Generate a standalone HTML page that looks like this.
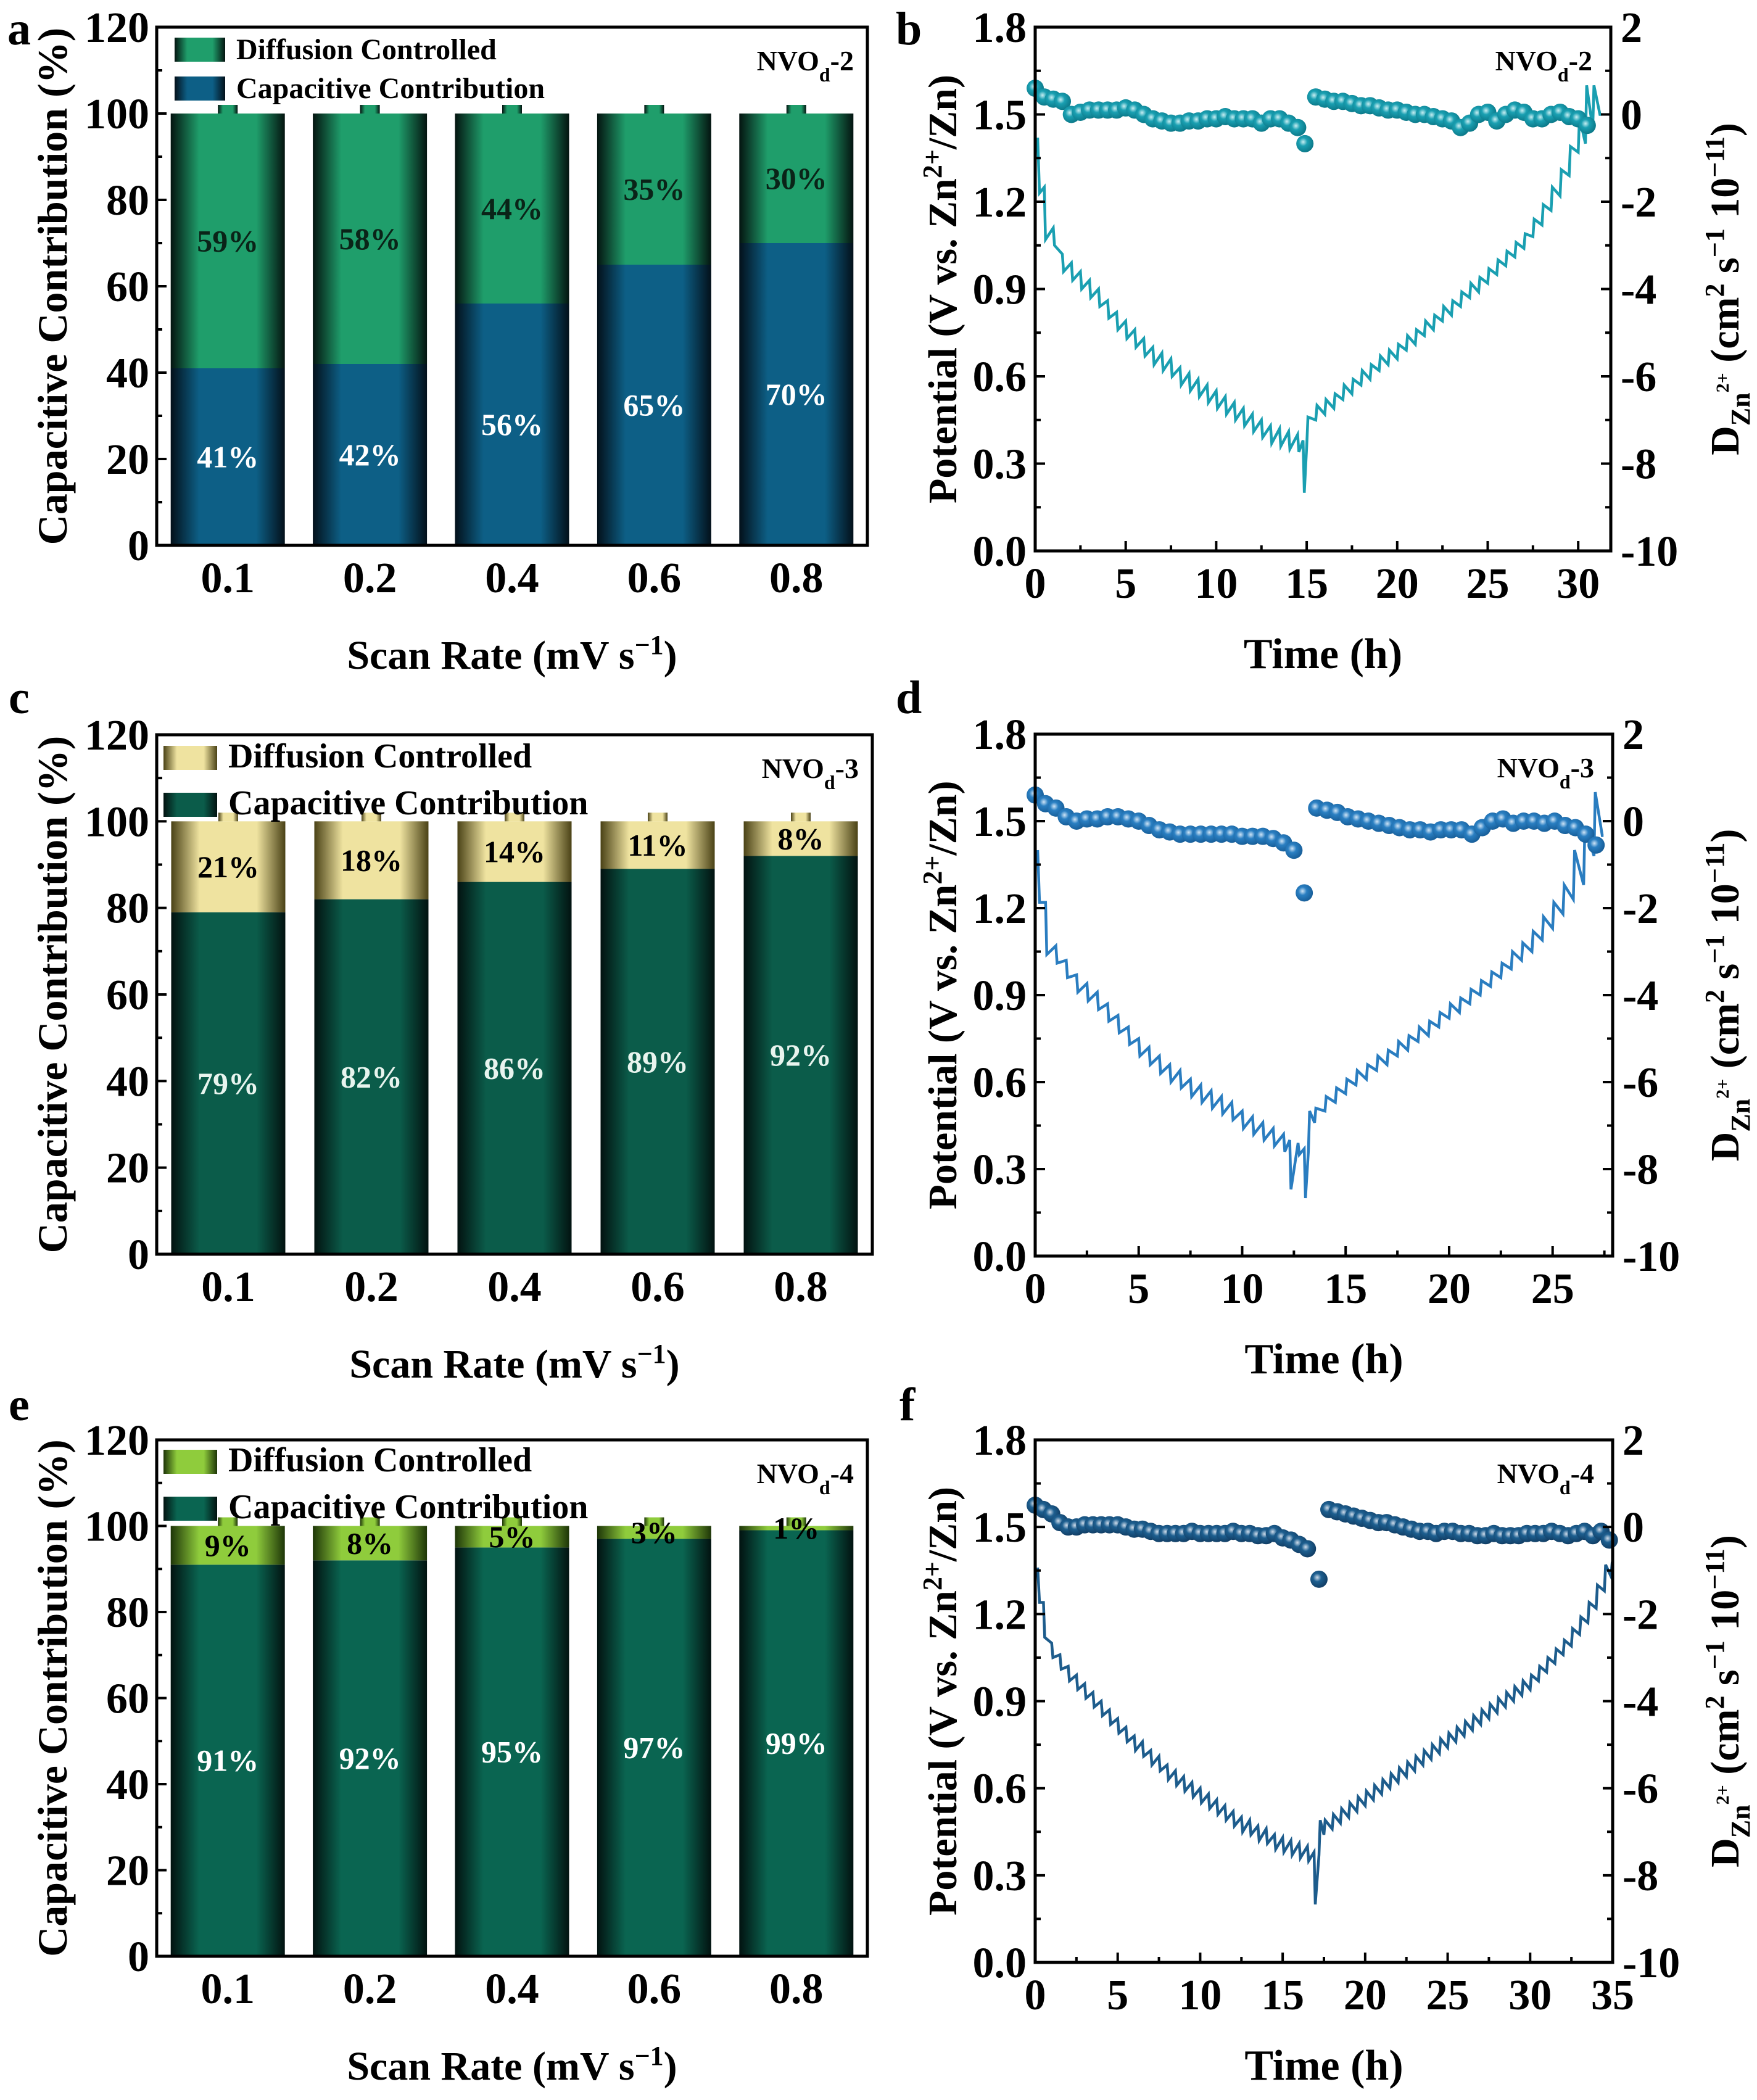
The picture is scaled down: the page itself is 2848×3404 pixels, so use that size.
<!DOCTYPE html>
<html><head><meta charset="utf-8">
<style>
html,body{margin:0;padding:0;background:#fff;}
svg{display:block;font-family:"Liberation Serif",serif;font-weight:bold;}
</style></head>
<body>
<svg id="fig" xmlns="http://www.w3.org/2000/svg" width="2848" height="3404" viewBox="0 0 2848 3404">
<defs>
<linearGradient id="gA1" x1="0" x2="1" y1="0" y2="0"><stop offset="0" stop-color="#041410"/><stop offset="0.25" stop-color="#1f9e6b"/><stop offset="0.75" stop-color="#1f9e6b"/><stop offset="1" stop-color="#041410"/></linearGradient>
<linearGradient id="gA2" x1="0" x2="1" y1="0" y2="0"><stop offset="0" stop-color="#03101a"/><stop offset="0.25" stop-color="#0d5f86"/><stop offset="0.75" stop-color="#0d5f86"/><stop offset="1" stop-color="#03101a"/></linearGradient>
<linearGradient id="gC1" x1="0" x2="1" y1="0" y2="0"><stop offset="0" stop-color="#4a4216"/><stop offset="0.25" stop-color="#efe3a0"/><stop offset="0.75" stop-color="#efe3a0"/><stop offset="1" stop-color="#4a4216"/></linearGradient>
<linearGradient id="gC2" x1="0" x2="1" y1="0" y2="0"><stop offset="0" stop-color="#021210"/><stop offset="0.25" stop-color="#0b5c4a"/><stop offset="0.75" stop-color="#0b5c4a"/><stop offset="1" stop-color="#021210"/></linearGradient>
<linearGradient id="gE1" x1="0" x2="1" y1="0" y2="0"><stop offset="0" stop-color="#1e3608"/><stop offset="0.25" stop-color="#8fcc3c"/><stop offset="0.75" stop-color="#8fcc3c"/><stop offset="1" stop-color="#1e3608"/></linearGradient>
<linearGradient id="gE2" x1="0" x2="1" y1="0" y2="0"><stop offset="0" stop-color="#021210"/><stop offset="0.25" stop-color="#0a6551"/><stop offset="0.75" stop-color="#0a6551"/><stop offset="1" stop-color="#021210"/></linearGradient>
<radialGradient id="pB" cx="0.4" cy="0.4" r="0.6"><stop offset="0" stop-color="#c8eef2"/><stop offset="0.4" stop-color="#1aa0b2"/><stop offset="1" stop-color="#0c7a8a"/></radialGradient>
<radialGradient id="pD" cx="0.4" cy="0.4" r="0.6"><stop offset="0" stop-color="#cfe4f6"/><stop offset="0.4" stop-color="#2a7fc2"/><stop offset="1" stop-color="#185f9a"/></radialGradient>
<radialGradient id="pF" cx="0.4" cy="0.4" r="0.6"><stop offset="0" stop-color="#cfdcea"/><stop offset="0.4" stop-color="#1d5f90"/><stop offset="1" stop-color="#123f66"/></radialGradient>
</defs>
</svg>
<script>
// ---------- bar chart data ----------
const scanRates = ['0.1','0.2','0.4','0.6','0.8'];
const capA = [41,42,56,65,70];
const difA = [59,58,44,35,30];
const capC = [79,82,86,89,92];
const difC = [21,18,14,11,8];
const capE = [91,92,95,97,99];
const difE = [9,8,5,3,1];
const barTicks = [0,20,40,60,80,100,120];

// ---------- GITT data: panel b (NVOd-2) ----------
const lineTB = [0,0.5,1,1.5,2,2.5,3,3.5,4,4.5,5,5.5,6,6.5,7,7.5,8,8.5,9,9.5,10,10.5,11,11.5,12,12.5,13,13.5,14,14.5,14.8,15.0,15.5,16,16.5,17,17.5,18,18.5,19,19.5,20,20.5,21,21.5,22,22.5,23,23.5,24,24.5,25,25.5,26,26.5,27,27.5,28,28.5,29,29.5,30,30.4,30.8,31.2];
const lineVB = [1.42,1.25,1.11,1.02,0.99,0.96,0.93,0.90,0.86,0.82,0.79,0.76,0.73,0.70,0.68,0.66,0.63,0.61,0.59,0.57,0.55,0.53,0.51,0.49,0.47,0.45,0.43,0.42,0.41,0.40,0.38,0.36,0.45,0.47,0.49,0.52,0.54,0.57,0.59,0.62,0.64,0.66,0.69,0.71,0.74,0.76,0.79,0.81,0.84,0.87,0.89,0.92,0.95,0.98,1.01,1.04,1.08,1.12,1.17,1.22,1.29,1.37,1.40,1.45,1.50];
const pulseB = [-0.19,-0.18,-0.06,-0.06,-0.06,-0.06,-0.06,-0.06,-0.06,-0.06,-0.06,-0.06,-0.06,-0.06,-0.06,-0.06,-0.06,-0.06,-0.06,-0.06,-0.06,-0.06,-0.06,-0.06,-0.06,-0.06,-0.06,-0.06,-0.06,-0.06,-0.18,0.10,0.05,0.05,0.05,0.05,0.05,0.05,0.05,0.05,0.05,0.05,0.05,0.05,0.05,0.05,0.05,0.05,0.05,0.05,0.05,0.05,0.05,0.05,0.05,0.05,0.06,0.07,0.08,0.09,0.10,0.12,0.20,0.15,0];
const diffTB = [0,0.5,1,1.5,2,2.5,3,3.5,4,4.5,5,5.5,6,6.5,7,7.5,8,8.5,9,9.5,10,10.5,11,11.5,12,12.5,13,13.5,14,14.5,14.9,15.5,16,16.5,17,17.5,18,18.5,19,19.5,20,20.5,21,21.5,22,22.5,23,23.5,24,24.5,25,25.5,26,26.5,27,27.5,28,28.5,29,29.5,30,30.5];
const diffB = [0.6,0.4,0.35,0.3,0,0.05,0.1,0.1,0.1,0.1,0.15,0.1,0,-0.1,-0.15,-0.2,-0.2,-0.15,-0.15,-0.1,-0.1,-0.05,-0.1,-0.1,-0.1,-0.2,-0.1,-0.1,-0.2,-0.3,-0.67,0.4,0.35,0.3,0.3,0.25,0.2,0.2,0.15,0.1,0.1,0.05,0,0,-0.05,-0.1,-0.15,-0.3,-0.2,0,0.05,-0.15,0,0.1,0.05,-0.1,-0.1,0,0.05,-0.05,-0.1,-0.25];

// ---------- panel d (NVOd-3) ----------
const lineTD = [0,0.5,1,1.5,2,2.5,3,3.5,4,4.5,5,5.5,6,6.5,7,7.5,8,8.5,9,9.5,10,10.5,11,11.5,12,12.3,12.7,13.0,13.2,13.5,14,14.5,15,15.5,16,16.5,17,17.5,18,18.5,19,19.5,20,20.5,21,21.5,22,22.5,23,23.5,24,24.5,25,25.5,26,26.5,27,27.4];
const lineVD = [1.40,1.22,1.07,1.02,0.97,0.94,0.91,0.87,0.83,0.79,0.75,0.72,0.69,0.66,0.64,0.61,0.59,0.57,0.55,0.53,0.50,0.48,0.46,0.44,0.42,0.40,0.39,0.37,0.36,0.46,0.50,0.53,0.56,0.59,0.61,0.64,0.66,0.69,0.71,0.74,0.76,0.79,0.82,0.84,0.87,0.90,0.93,0.96,0.99,1.02,1.05,1.09,1.13,1.18,1.23,1.28,1.38,1.45];
const pulseD = [-0.18,-0.18,-0.06,-0.06,-0.06,-0.06,-0.06,-0.06,-0.06,-0.06,-0.06,-0.06,-0.06,-0.06,-0.06,-0.06,-0.06,-0.06,-0.06,-0.06,-0.06,-0.06,-0.06,-0.06,-0.06,-0.17,-0.04,-0.17,0.14,0.05,0.05,0.05,0.05,0.05,0.05,0.05,0.05,0.05,0.05,0.05,0.05,0.05,0.05,0.05,0.05,0.05,0.05,0.05,0.06,0.06,0.07,0.08,0.09,0.10,0.17,0.20,0.22,0];
const diffTD = [0,0.5,1,1.5,2,2.5,3,3.5,4,4.5,5,5.5,6,6.5,7,7.5,8,8.5,9,9.5,10,10.5,11,11.5,12,12.5,13.0,13.6,14.1,14.6,15.1,15.6,16.1,16.6,17.1,17.6,18.1,18.6,19.1,19.6,20.1,20.6,21.1,21.6,22.1,22.6,23.1,23.6,24.1,24.6,25.1,25.6,26.1,26.6,27.1];
const diffD = [0.6,0.4,0.3,0.1,0,0.05,0.05,0.1,0.1,0.05,0,-0.1,-0.2,-0.25,-0.3,-0.3,-0.3,-0.3,-0.3,-0.3,-0.35,-0.35,-0.35,-0.4,-0.5,-0.67,-1.65,0.3,0.25,0.2,0.1,0.05,0,-0.05,-0.1,-0.15,-0.2,-0.2,-0.25,-0.2,-0.2,-0.2,-0.3,-0.15,0,0.05,-0.05,0,0,-0.05,0,-0.1,-0.15,-0.3,-0.55];

// ---------- panel f (NVOd-4) ----------
const lineTF = [0,0.5,1,1.5,2,2.5,3,3.5,4,4.5,5,5.5,6,6.5,7,7.5,8,8.5,9,9.5,10,10.5,11,11.5,12,12.5,13,13.5,14,14.5,15,15.5,16,16.5,16.9,17.2,17.5,18,18.5,19,19.5,20,20.5,21,21.5,22,22.5,23,23.5,24,24.5,25,25.5,26,26.5,27,27.5,28,28.5,29,29.5,30,30.5,31,31.5,32,32.5,33,33.5,34,34.5,34.9];
const lineVF = [1.36,1.24,1.10,1.06,1.02,0.99,0.96,0.93,0.90,0.87,0.84,0.81,0.78,0.76,0.73,0.71,0.68,0.66,0.64,0.62,0.60,0.58,0.56,0.54,0.52,0.50,0.49,0.47,0.46,0.44,0.43,0.42,0.41,0.40,0.38,0.37,0.44,0.46,0.48,0.50,0.52,0.54,0.56,0.58,0.60,0.62,0.64,0.66,0.68,0.70,0.72,0.74,0.76,0.78,0.80,0.82,0.84,0.86,0.88,0.90,0.92,0.94,0.97,1.00,1.03,1.06,1.09,1.13,1.17,1.22,1.28,1.33];
const pulseF = [-0.12,-0.12,-0.05,-0.05,-0.05,-0.05,-0.05,-0.05,-0.05,-0.05,-0.05,-0.05,-0.05,-0.05,-0.05,-0.05,-0.05,-0.05,-0.05,-0.05,-0.05,-0.05,-0.05,-0.05,-0.05,-0.05,-0.05,-0.05,-0.05,-0.05,-0.05,-0.05,-0.05,-0.05,-0.18,0.12,0.05,0.05,0.05,0.05,0.05,0.05,0.05,0.05,0.05,0.05,0.05,0.05,0.05,0.05,0.05,0.05,0.05,0.05,0.05,0.05,0.05,0.05,0.05,0.05,0.05,0.05,0.05,0.05,0.05,0.05,0.06,0.06,0.07,0.08,0.09,0.05];
const diffTF = [0,0.5,1,1.5,2,2.5,3,3.5,4,4.5,5,5.5,6,6.5,7,7.5,8,8.5,9,9.5,10,10.5,11,11.5,12,12.5,13,13.5,14,14.5,15,15.5,16,16.5,17.2,17.8,18.3,18.8,19.3,19.8,20.3,20.8,21.3,21.8,22.3,22.8,23.3,23.8,24.3,24.8,25.3,25.8,26.3,26.8,27.3,27.8,28.3,28.8,29.3,29.8,30.3,30.8,31.3,31.8,32.3,32.8,33.3,33.8,34.3,34.8];
const diffF = [0.5,0.4,0.3,0.1,0,0,0.05,0.05,0.05,0.05,0.05,0,-0.05,-0.05,-0.1,-0.15,-0.15,-0.15,-0.15,-0.1,-0.15,-0.15,-0.15,-0.15,-0.1,-0.15,-0.15,-0.2,-0.2,-0.15,-0.25,-0.3,-0.4,-0.5,-1.2,0.4,0.35,0.3,0.25,0.2,0.15,0.1,0.1,0.05,0,-0.05,-0.1,-0.1,-0.15,-0.1,-0.1,-0.15,-0.15,-0.2,-0.2,-0.15,-0.2,-0.2,-0.2,-0.15,-0.15,-0.15,-0.1,-0.15,-0.2,-0.15,-0.1,-0.2,-0.1,-0.3];

const potTicks = [0,0.3,0.6,0.9,1.2,1.5,1.8];
const dTicks = [2,0,-2,-4,-6,-8,-10];
const timeTicks = [0,5,10,15,20,25,30,35];

const NS='http://www.w3.org/2000/svg';
const svg=document.getElementById('fig');
function mk(tag,attrs,parent){const e=document.createElementNS(NS,tag);for(const k in attrs)e.setAttribute(k,attrs[k]);(parent||svg).appendChild(e);return e;}
function txt(parent,x,y,s,size,anchor,fill){const t=mk('text',{x:x,y:y,'font-size':size,'text-anchor':anchor||'middle',fill:fill||'#000'},parent);t.textContent=s;return t;}
function sup(t,s,sh,sz){const p=mk('tspan',{'baseline-shift':sh,'font-size':sz},t);p.textContent=s;return p;}
function plain(t,s){const p=mk('tspan',{},t);p.textContent=s;return p;}

function barPanel(id,box,cap,dif,g1,g2,difLabelColor,capLabelColor,legend,sample,letter){
  const g=mk('g',{});
  
  
  const L=box.L,R=box.R,T=box.T,B=box.B;
  const y=v=>B-v/120*(B-T);
  const step=(R-L)/5, bw=185;
  const xc=i=>L+step*(i+0.5);
  for(let i=0;i<scanRates.length;i++){
    const bg=mk('g',{},g);
    
    
    const x0=xc(i)-bw/2;
    const capRect=mk('rect',{x:x0,y:y(cap[i]),width:bw,height:y(0)-y(cap[i]),fill:'url(#'+g2+')'},bg);
    
    
    const difRect=mk('rect',{x:x0,y:y(cap[i]+dif[i]),width:bw,height:y(cap[i])-y(cap[i]+dif[i]),fill:'url(#'+g1+')'},bg);
    
    
    const err=mk('rect',{x:xc(i)-16,y:y(102),width:32,height:y(100)-y(102),fill:'url(#'+g1+')'},bg);
    
    
    const l1=txt(bg,xc(i),y(cap[i]/2)+17,cap[i]+'%',50,'middle',capLabelColor);
    
    
    const l2=txt(bg,xc(i),y(cap[i]+dif[i]/2)+17,dif[i]+'%',50,'middle',difLabelColor);
    
    
    const tl=txt(g,xc(i),B+76,scanRates[i],70);
    
    
  }
  const fr=mk('rect',{x:L,y:T,width:R-L,height:B-T,fill:'none',stroke:'#000','stroke-width':5},g);
  
  
  for(let v=0;v<=120;v+=10){
    const maj=v%20===0;
    mk('line',{x1:L,x2:L+(maj?16:9),y1:y(v),y2:y(v),stroke:'#000','stroke-width':4},g);
  }
  barTicks.forEach(v=>{const t=txt(g,L-12,y(v)+24,String(v),70,'end');
    
    });
  const yt=txt(g,0,0,'Capacitive Contribution (%)',68);
  yt.setAttribute('transform','translate(108,'+((T+B)/2)+') rotate(-90)');
  
  
  const xt=txt(g,(L+R)/2,B+200,'Scan Rate (mV s',66);
  sup(xt,'\u22121','super',44);
  plain(xt,')');
  
  
  const lg=mk('g',{},g);
  
  
  const items=[['Diffusion Controlled',g1],['Capacitive Contribution',g2]];
  items.forEach((it,k)=>{
    const e=mk('g',{},lg);
    
    
    mk('rect',{x:legend.x,y:legend.y+k*legend.dy,width:legend.w,height:legend.h,fill:'url(#'+it[1]+')'},e);
    txt(e,legend.x+legend.w+18,legend.y+k*legend.dy+legend.h-4,it[0],legend.fs,'start');
  });
  const sm=txt(g,R-22,T+70,'NVO',46,'end');
  sup(sm,'d','sub',32);
  plain(sm,sample);
  
  
  const pl=txt(g,box.lx,box.ly,letter,76,'start');
  
  
}

function linePanel(id,box,xmax,lt,lv,pa,dt,dv,color,grad,sample,letter){
  const g=mk('g',{});
  
  
  const L=box.L,R=box.R,T=box.T,B=box.B;
  const x=t=>L+t/xmax*(R-L);
  const yl=v=>B-v/1.8*(B-T);
  const yr=d=>B-(d+10)/12*(B-T);
  let pts=[];
  for(let i=0;i<lt.length;i++){
    pts.push((x(lt[i])+(i===0?4:0)).toFixed(1)+','+yl(lv[i]).toFixed(1));
    pts.push((x(lt[i])+(i===0?7:2)).toFixed(1)+','+yl(lv[i]+pa[i]).toFixed(1));
  }
  const pl=mk('polyline',{points:pts.join(' '),fill:'none',stroke:color,'stroke-width':4.5,'stroke-linejoin':'miter'},g);
  
  
  const pg=mk('g',{},g);
  
  
  for(let i=0;i<dt.length;i++){
    const c=mk('circle',{cx:x(dt[i]),cy:yr(dv[i]),r:14,fill:'url(#'+grad+')'},pg);
    
    
  }
  const fr=mk('rect',{x:L,y:T,width:R-L,height:B-T,fill:'none',stroke:'#000','stroke-width':5},g);
  
  
  for(let t=0;t<=xmax+0.01;t+=2.5){
    const maj=Math.abs(t%5)<0.01;
    mk('line',{x1:x(t),x2:x(t),y1:B,y2:B-(maj?16:9),stroke:'#000','stroke-width':4},g);
  }
  timeTicks.filter(t=>t<=xmax+0.01).forEach(t=>{const e=txt(g,x(t),B+76,String(t),70);
    
    });
  for(let v=0;v<=1.8001;v+=0.15){
    const maj=Math.round(v/0.15)%2===0;
    mk('line',{x1:L,x2:L+(maj?16:9),y1:yl(v),y2:yl(v),stroke:'#000','stroke-width':4},g);
  }
  potTicks.forEach(v=>{const e=txt(g,L-14,yl(v)+24,v.toFixed(1),70,'end');
    
    });
  for(let d=-10;d<=2;d+=1){
    const maj=d%2===0;
    mk('line',{x1:R,x2:R-(maj?16:9),y1:yr(d),y2:yr(d),stroke:'#000','stroke-width':4},g);
  }
  dTicks.forEach(d=>{const e=txt(g,R+16,yr(d)+24,String(d),70,'start');
    
    });
  const ly=txt(g,0,0,'Potential (V vs. Zn',66);
  sup(ly,'2+','super',44); plain(ly,'/Zn)');
  ly.setAttribute('transform','translate(1550,'+((T+B)/2)+') rotate(-90)');
  
  
  const ry=txt(g,0,0,'D',66);
  const s1=mk('tspan',{'font-size':44,dy:18},ry); s1.textContent='Zn';
  const s2=mk('tspan',{'font-size':30,dy:-34},ry); s2.textContent='2+';
  const s3=mk('tspan',{'font-size':66,dy:16},ry); s3.textContent=' (cm';
  sup(ry,'2','super',44); plain(ry,' s'); sup(ry,'\u22121','super',44); plain(ry,' 10'); sup(ry,'\u221211','super',44); plain(ry,')');
  ry.setAttribute('transform','translate(2818,'+((T+B)/2)+') rotate(-90)');
  
  
  const xt=txt(g,(L+R)/2,B+190,'Time (h)',70);
  
  
  const sm=txt(g,R-30,T+70,'NVO',46,'end');
  sup(sm,'d','sub',32); plain(sm,sample);
  
  
  const pl2=txt(g,box.lx,box.ly,letter,76,'start');
  
  
}

barPanel('panel-a',{L:254,R:1406,T:44,B:884,lx:12,ly:72},capA,difA,'gA1','gA2','#0a2418','#ffffff',{x:283,y:61,w:82,h:39,dy:63,fs:48},'-2','a');
barPanel('panel-c',{L:254,R:1414,T:1191,B:2033,lx:14,ly:1156},capC,difC,'gC1','gC2','#000000','#e8f4ee',{x:265,y:1209,w:87,h:39,dy:76,fs:56},'-3','c');
barPanel('panel-e',{L:254,R:1406,T:2334,B:3171,lx:14,ly:2302},capE,difE,'gE1','gE2','#000000','#ffffff',{x:265,y:2350,w:87,h:39,dy:76,fs:56},'-4','e');
linePanel('panel-b',{L:1678,R:2611,T:44,B:893,lx:1452,ly:72},31.8,lineTB,lineVB,pulseB,diffTB,diffB,'#1a9fb1','pB','-2','b');
linePanel('panel-d',{L:1678,R:2614,T:1190,B:2036,lx:1452,ly:1156},27.9,lineTD,lineVD,pulseD,diffTD,diffD,'#2a7dc0','pD','-3','d');
linePanel('panel-f',{L:1678,R:2614,T:2334,B:3181,lx:1458,ly:2302},35,lineTF,lineVF,pulseF,diffTF,diffF,'#1d5c8c','pF','-4','f');
</script>
</body></html>
